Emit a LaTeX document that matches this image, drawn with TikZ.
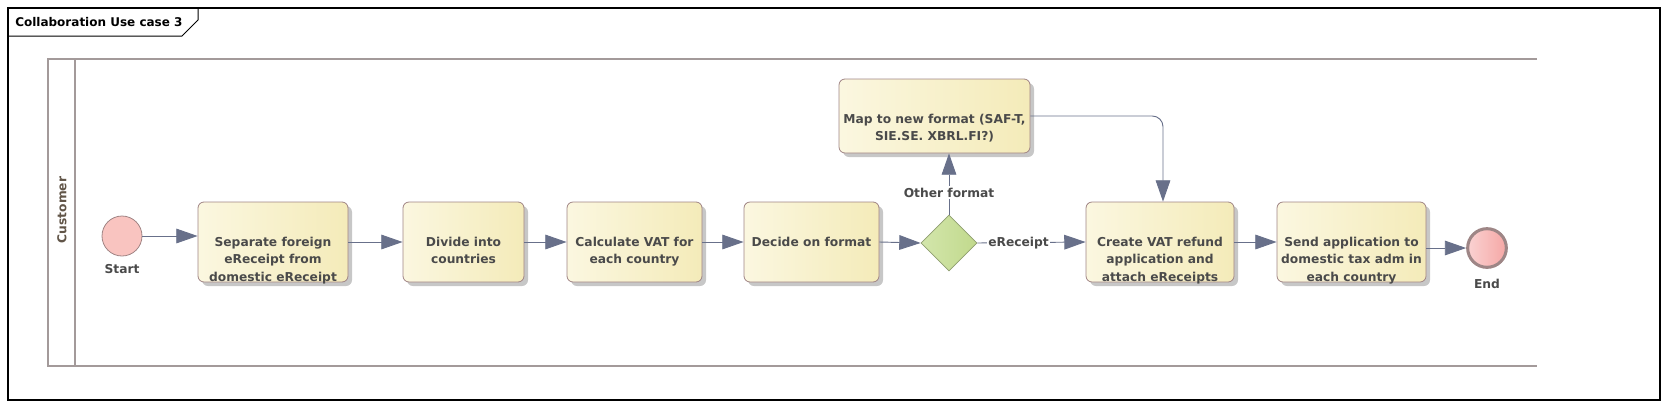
\documentclass[tikz,border=0pt]{standalone}
\usepackage{fontspec}
\setmainfont{DejaVu Sans}
\usetikzlibrary{arrows.meta,shapes.geometric,shadows,calc}
\definecolor{boxborder}{HTML}{A08484}
\definecolor{boxleft}{HTML}{FBF7E0}
\definecolor{boxright}{HTML}{F4EBB9}
\definecolor{txtgray}{HTML}{4A4A4A}
\definecolor{arrowc}{HTML}{68708A}
\definecolor{poolc}{HTML}{A39A9A}
\definecolor{startfill}{HTML}{F9C4C0}
\definecolor{endleft}{HTML}{FAD2D2}
\definecolor{endright}{HTML}{F5A7A5}
\definecolor{endborder}{HTML}{9E8686}
\definecolor{diaLeft}{HTML}{D3E6AC}
\definecolor{diaRight}{HTML}{C1D98C}
\definecolor{diaBorder}{HTML}{8F9E70}
\tikzset{
  lbl/.style={font=\fontsize{9.2}{13}\selectfont\bfseries, text=txtgray, align=center, inner sep=1pt},
  actbox/.style={rectangle, rounded corners=4.5pt, draw=boxborder, line width=0.6pt,
    left color=boxleft, right color=boxright, minimum height=60pt,
    drop shadow={shadow xshift=3pt, shadow yshift=-3pt, fill=black!22, opacity=1}},
  flow/.style={draw=arrowc, line width=0.7pt, -{Triangle[length=16pt,width=11pt]}, color=arrowc},
  pool/.style={draw=poolc, line width=1.6pt},
}
\begin{document}
\begin{tikzpicture}[x=0.75pt,y=-0.75pt]
\useasboundingbox (0,0) rectangle (1668,408);
% frame
\draw[line width=0.9pt] (8,8) rectangle (1660,400);
\draw[line width=0.75pt] (8,36) -- (182,36) -- (198,20) -- (198,8);
\node[font=\fontsize{9}{11}\selectfont\bfseries, anchor=west, inner sep=0pt] (title) at (15,22) {Collaboration Use case 3};
% pool
\draw[pool] (1537,59) -- (48,59) -- (48,366) -- (1537,366);
\draw[pool] (75,59) -- (75,366);
\node[lbl, rotate=90, text=txtgray!80!brown] (lane) at (62,210) {Customer};
% start / end
\node[circle, draw=boxborder, fill=startfill, line width=0.6pt, minimum size=30pt, inner sep=0pt] (start) at (122,236) {};
\node[lbl] (startl) at (122,269) {Start};
\node[circle, draw=endborder, left color=endleft, right color=endright, line width=2.3pt, minimum size=29pt, inner sep=0pt] (end) at (1487,248) {};
\node[lbl] (endl) at (1487,284) {End};
% boxes
\node[actbox, minimum width=112.5pt] (b1) at (273,242) {};
\node[lbl, anchor=north] (t1) at ($(b1.north)+(0,34)$) {Separate foreign\\eReceipt from\\domestic eReceipt};
\node[actbox, minimum width=90.75pt] (b2) at (463.5,242) {};
\node[lbl, anchor=north] (t2) at ($(b2.north)+(0,34)$) {Divide into\\countries};
\node[actbox, minimum width=101.25pt] (b3) at (634.5,242) {};
\node[lbl, anchor=north] (t3) at ($(b3.north)+(0,34)$) {Calculate VAT for\\each country};
\node[actbox, minimum width=101.25pt] (b4) at (811.5,242) {};
\node[lbl, anchor=north] (t4) at ($(b4.north)+(0,34)$) {Decide on format};
\node[actbox, minimum width=143.25pt, minimum height=55.5pt] (map) at (934.5,116) {};
\node[lbl, anchor=north] (tm) at ($(map.north)+(0,34)$) {Map to new format (SAF-T,\\SIE.SE. XBRL.FI?)};
\node[actbox, minimum width=111pt] (b5) at (1160,242) {};
\node[lbl, anchor=north] (t5) at ($(b5.north)+(0,34)$) {Create VAT refund\\application and\\attach eReceipts};
\node[actbox, minimum width=111.75pt] (b6) at (1351.5,242) {};
\node[lbl, anchor=north] (t6) at ($(b6.north)+(0,34)$) {Send application to\\domestic tax adm in\\each country};
% gateway
\node[diamond, draw=diaBorder, left color=diaLeft, right color=diaRight, line width=0.6pt, minimum width=42pt, minimum height=42pt, inner sep=0pt] (dia) at (949,243) {};
% flows
\draw[flow] (start.east) -- (start.east -| b1.west);
\draw[flow] (b1.east) -- (b2.west);
\draw[flow] (b2.east) -- (b3.west);
\draw[flow] (b3.east) -- (b4.west);
\draw[flow] (b4.east) -- (dia.west);
\draw[flow] (dia.north) -- (dia.north |- map.south) node[lbl, pos=0.36, fill=white] (lo) {Other format};
\draw[flow] (dia.east) -- (b5.west) node[lbl, pos=0.38, fill=white] (le) {eReceipt};
\draw[flow, rounded corners=8pt] (map.east) -| ([xshift=2.25pt]b5.north);
\draw[flow] (b5.east) -- (b6.west);
\draw[flow] (b6.east |- end.west) -- (end.west);
\end{tikzpicture}
\end{document}
